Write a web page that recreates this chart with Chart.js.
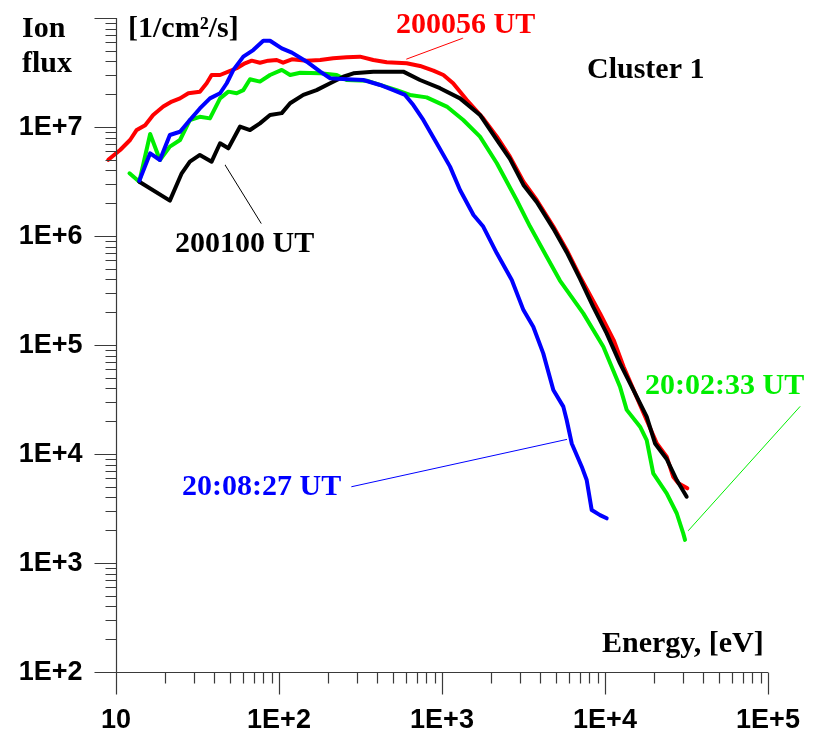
<!DOCTYPE html>
<html>
<head>
<meta charset="utf-8">
<script src="https://cdn.jsdelivr.net/npm/chart.js@4.4.1/dist/chart.umd.min.js"></script>
<style>
  body { margin: 0; background: #fff; }
</style>
</head>
<body>
<canvas id="grafico" width="815" height="740"></canvas>
<script>
// energia [eV] e fluxo [1/cm2/s]
const redEnergy = [8.97, 10.6, 12.2, 13.4, 15.1, 16.9, 19.5, 22.0, 24.7, 27.8, 32.7, 36.0, 38.6, 43.5, 48.9, 55.0, 61.8, 68.0, 76.4, 86.0, 96.8, 106, 120, 148, 179, 215, 260, 314, 379, 458, 607, 733, 885, 1020, 1170, 1420, 1790, 2170, 2610, 3160, 3810, 4820, 5820, 7030, 9320, 11300, 13000, 15600, 18000, 20800, 23900, 26200, 28200, 32000];
const redFlux = [5.0e6, 6.15e6, 7.6e6, 9.4e6, 1.04e7, 1.29e7, 1.54e7, 1.71e7, 1.83e7, 2.04e7, 2.11e7, 2.52e7, 3.0e7, 3.0e7, 3.22e7, 3.46e7, 3.84e7, 4.06e7, 3.89e7, 4.06e7, 4.12e7, 3.89e7, 4.18e7, 4.06e7, 4.12e7, 4.27e7, 4.36e7, 4.42e7, 4.12e7, 3.93e7, 3.84e7, 3.63e7, 3.29e7, 3.0e7, 2.52e7, 1.77e7, 1.2e7, 8.15e6, 5.34e6, 3.15e6, 2.14e6, 1.22e6, 7.44e5, 4.23e5, 1.95e5, 1.11e5, 6.32e4, 3.36e4, 2.05e4, 1.25e4, 9.45e3, 6.19e3, 5.38e3, 4.84e3];

const blackEnergy = [13.9, 21.4, 25.3, 28.4, 32.7, 38.6, 43.5, 48.9, 57.7, 66.4, 76.4, 88.1, 104, 117, 141, 170, 206, 248, 286, 379, 480, 579, 733, 972, 1290, 1710, 2170, 2610, 3160, 3810, 4820, 5820, 7030, 8470, 10240, 12360, 14920, 18020, 20280, 23900, 27540, 31700];
const blackFlux = [3.15e6, 2.11e6, 3.76e6, 4.81e6, 5.54e6, 4.81e6, 7.09e6, 6.38e6, 1.01e7, 9.38e6, 1.08e7, 1.29e7, 1.34e7, 1.65e7, 1.97e7, 2.18e7, 2.52e7, 2.89e7, 3.11e7, 3.22e7, 3.22e7, 3.22e7, 2.70e7, 2.27e7, 1.83e7, 1.29e7, 7.6e6, 5.1e6, 2.94e6, 2.05e6, 1.17e6, 7.1e5, 4.05e5, 2.24e5, 1.28e5, 6.79e4, 3.87e4, 2.2e4, 1.25e4, 9.0e3, 5.77e3, 4.06e3];

const blueEnergy = [13.9, 16.2, 18.6, 21.4, 24.7, 28.4, 32.7, 37.7, 43.5, 47.8, 52.5, 60.4, 69.5, 80.1, 88.1, 104, 120, 148, 179, 206, 260, 329, 417, 503, 593, 667, 768, 928, 1120, 1290, 1560, 1790, 2170, 2680, 3160, 3630, 4180, 4820, 5550, 5820, 6250, 7200, 7720, 8290, 9320, 10240];
const blueFlux = [3.21e6, 5.74e6, 4.98e6, 8.45e6, 9.05e6, 1.16e7, 1.48e7, 1.83e7, 2.04e7, 2.52e7, 3.34e7, 4.42e7, 5.08e7, 6.19e7, 6.19e7, 5.27e7, 4.81e7, 3.97e7, 3.22e7, 2.80e7, 2.74e7, 2.70e7, 2.43e7, 2.18e7, 1.97e7, 1.59e7, 1.16e7, 7.09e6, 4.33e6, 2.64e6, 1.56e6, 1.22e6, 6.94e5, 3.95e5, 2.09e5, 1.47e5, 8.38e4, 3.87e4, 2.72e4, 2.05e4, 1.25e4, 7.65e3, 5.77e3, 3.06e3, 2.75e3, 2.57e3];

const greenEnergy = [12.1, 13.9, 16.2, 18.6, 21.4, 24.7, 28.4, 32.7, 37.7, 43.5, 48.9, 55.0, 60.4, 66.4, 76.4, 88.1, 104, 117, 135, 179, 226, 260, 345, 417, 527, 636, 805, 1070, 1350, 1710, 2170, 2870, 3470, 4390, 5290, 7360, 9770, 12360, 13590, 16410, 18020, 19770, 23900, 27540, 30200, 30970];
const greenFlux = [3.76e6, 3.15e6, 8.63e6, 4.98e6, 6.6e6, 7.6e6, 1.16e7, 1.24e7, 1.2e7, 1.83e7, 2.11e7, 2.04e7, 2.18e7, 2.74e7, 2.61e7, 3.0e7, 3.34e7, 3.0e7, 3.15e7, 3.11e7, 3.0e7, 2.7e7, 2.66e7, 2.43e7, 2.18e7, 1.97e7, 1.87e7, 1.54e7, 1.16e7, 8.15e6, 4.65e6, 2.14e6, 1.22e6, 6.46e5, 3.9e5, 1.95e5, 9.65e4, 4.14e4, 2.54e4, 1.78e4, 1.34e4, 6.65e3, 4.35e3, 2.86e3, 1.87e3, 1.63e3];

// linhas finas que ligam os rotulos as curvas (em energia / fluxo)
const redLeaderE = [1340, 607];
const redLeaderF = [6.52e7, 4.2e7];
const blackLeaderE = [46.7, 77.6];
const blackLeaderF = [4.48e6, 1.31e6];
const blueLeaderE = [279, 5815];
const blueLeaderF = [5.01e3, 1.36e4];
const greenLeaderE = [32430, 157000];
const greenLeaderF = [1.98e3, 2.72e4];

// eixos
const xTicks = [10, 100, 1000, 10000, 100000];
const xTickLabels = ["10", "1E+2", "1E+3", "1E+4", "1E+5"];
const yTicks = [1e2, 1e3, 1e4, 1e5, 1e6, 1e7, 1e8];
const yTickLabels = ["1E+2", "1E+3", "1E+4", "1E+5", "1E+6", "1E+7", ""];

const VERMELHO = "#ff0000", PRETO = "#000000", AZUL = "#0000ff", VERDE = "#00ee00";

function pontos(es, fs) {
    return es.map((e, i) => ({x: e, y: fs[i]}));
}

function curva(es, fs, cor, larg) {
    return {
        data: pontos(es, fs),
        borderColor: cor,
        borderWidth: larg,
        pointRadius: 0,
        tension: 0,
        fill: false,
        clip: false,
        borderJoinStyle: "round",
        borderCapStyle: "round"
    };
}

// textos do grafico
const textos = [
    {t: "Ion", x: 22, y: 37, cor: PRETO},
    {t: "flux", x: 22, y: 72, cor: PRETO},
    {t: "[1/cm\u00b2/s]", x: 128, y: 37, cor: PRETO},
    {t: "200056 UT", x: 396, y: 33, cor: VERMELHO},
    {t: "Cluster 1", x: 587, y: 78, cor: PRETO},
    {t: "200100 UT", x: 175, y: 252, cor: PRETO},
    {t: "20:08:27 UT", x: 182, y: 495, cor: AZUL},
    {t: "20:02:33 UT", x: 645, y: 394, cor: VERDE},
    {t: "Energy, [eV]", x: 602, y: 652, cor: PRETO}
];

const eixosPlugin = {
    id: "eixos",
    afterDraw(chart) {
        const ctx = chart.ctx;
        const xs = chart.scales.x, ys = chart.scales.y;
        const left = Math.round(chart.chartArea.left) + 0.5;
        const bottom = Math.round(chart.chartArea.bottom) + 0.5;
        const top = ys.getPixelForValue(1e8);
        const right = xs.getPixelForValue(1e5);
        ctx.save();
        ctx.strokeStyle = "#3a3a3a";
        ctx.lineWidth = 1.2;
        ctx.beginPath();
        ctx.moveTo(left, top);
        ctx.lineTo(left, bottom + 22);
        ctx.moveTo(left - 22, bottom);
        ctx.lineTo(right, bottom);
        // marcas do eixo y
        yTicks.forEach(d => {
            const py = Math.round(ys.getPixelForValue(d)) + 0.5;
            ctx.moveTo(left - 22, py);
            ctx.lineTo(left, py);
            for (let k = 2; k <= 9; k++) {
                if (k * d > 1e8) break;
                const p = Math.round(ys.getPixelForValue(k * d)) + 0.5;
                ctx.moveTo(left - 11, p);
                ctx.lineTo(left, p);
            }
        });
        // marcas do eixo x
        xTicks.forEach(d => {
            const px = Math.round(xs.getPixelForValue(d)) + 0.5;
            ctx.moveTo(px, bottom);
            ctx.lineTo(px, bottom + 22);
            for (let k = 2; k <= 9; k++) {
                if (k * d > 1e5) break;
                const p = Math.round(xs.getPixelForValue(k * d)) + 0.5;
                ctx.moveTo(p, bottom);
                ctx.lineTo(p, bottom + 11);
            }
        });
        ctx.stroke();

        // rotulos numericos
        ctx.fillStyle = "#000";
        ctx.font = "bold 27px 'Liberation Sans'";
        ctx.textBaseline = "middle";
        ctx.textAlign = "right";
        yTicks.forEach((d, i) => {
            ctx.fillText(yTickLabels[i], left - 34, ys.getPixelForValue(d) + 1);
        });
        ctx.textAlign = "center";
        xTicks.forEach((d, i) => {
            ctx.fillText(xTickLabels[i], xs.getPixelForValue(d), bottom + 48);
        });

        // textos
        ctx.font = "bold 30px 'Liberation Serif'";
        ctx.textAlign = "left";
        ctx.textBaseline = "alphabetic";
        textos.forEach(o => {
            ctx.fillStyle = o.cor;
            ctx.fillText(o.t, o.x, o.y);
        });
        ctx.restore();
    }
};

new Chart(document.getElementById("grafico"), {
    type: "line",
    data: {
        datasets: [
            curva(blueEnergy, blueFlux, AZUL, 4),
            curva(blackEnergy, blackFlux, PRETO, 4),
            curva(greenEnergy, greenFlux, VERDE, 4),
            curva(redEnergy, redFlux, VERMELHO, 4),
            curva(redLeaderE, redLeaderF, VERMELHO, 1),
            curva(blackLeaderE, blackLeaderF, PRETO, 1),
            curva(blueLeaderE, blueLeaderF, AZUL, 1),
            curva(greenLeaderE, greenLeaderF, VERDE, 1)
        ]
    },
    options: {
        responsive: false,
        animation: false,
        events: [],
        layout: {padding: {left: 116, right: 47, top: 18, bottom: 68}},
        plugins: {legend: {display: false}, tooltip: {enabled: false}},
        scales: {
            x: {type: "logarithmic", min: 10, max: 1e5, display: false},
            y: {type: "logarithmic", min: 1e2, max: 1e8, display: false}
        }
    },
    plugins: [eixosPlugin]
});
</script>
</body>
</html>
